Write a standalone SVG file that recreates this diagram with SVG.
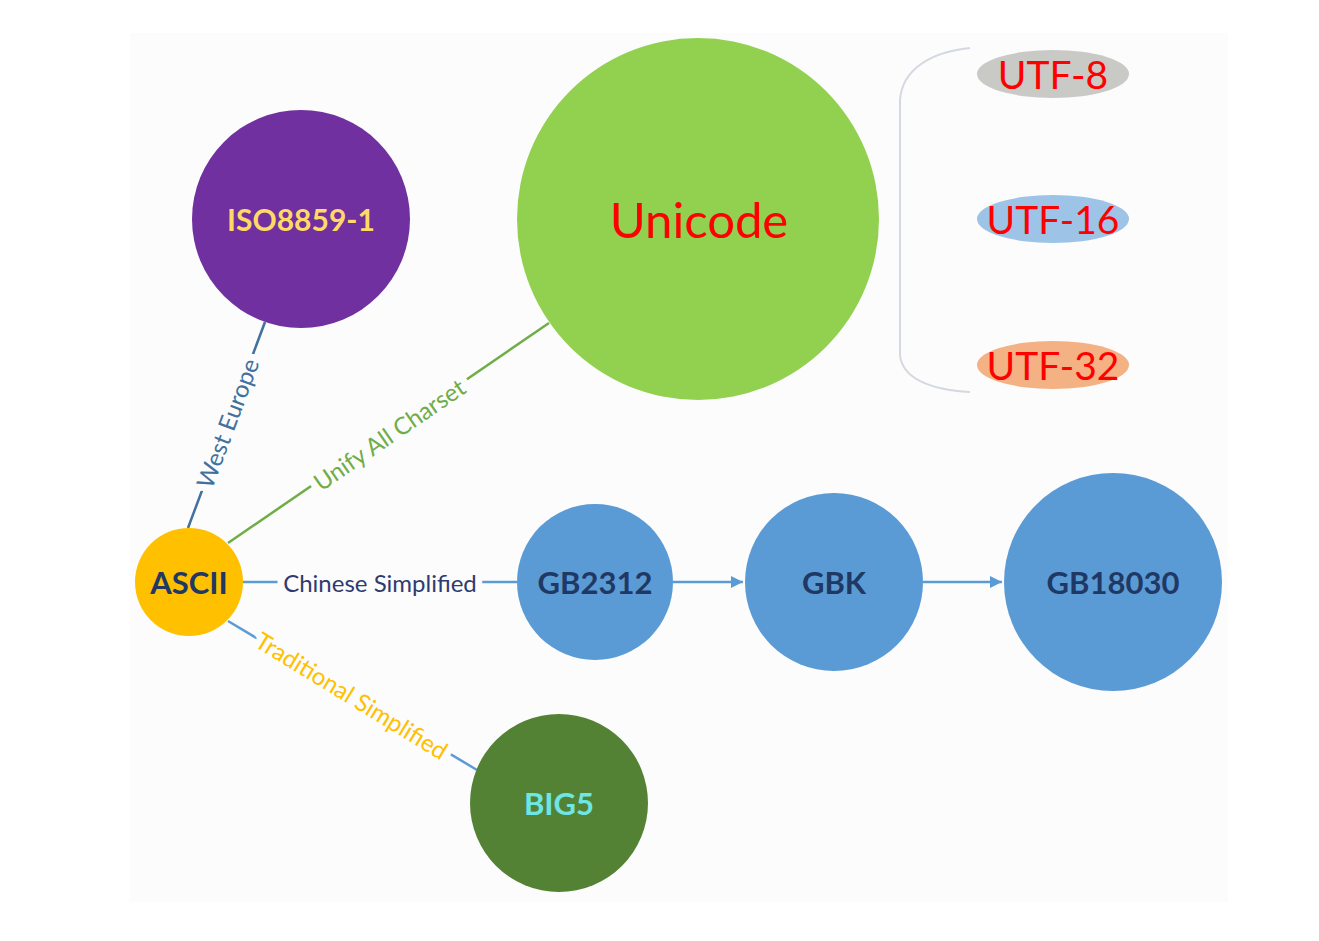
<svg xmlns="http://www.w3.org/2000/svg" width="1319" height="941" viewBox="0 0 1319 941">
<style>
.node text{font-family:Lato,"Open Sans","Liberation Sans",sans-serif;text-anchor:middle;dominant-baseline:central}
.lbl{font-family:Lato,"Open Sans","Liberation Sans",sans-serif;font-size:24px;text-anchor:middle;dominant-baseline:central;paint-order:stroke;stroke:#fcfcfc;stroke-width:14px;stroke-linejoin:round}
.utf{font-size:39px;fill:#ff0000}
.gb{fill:#5b9bd5}
.gbt{font-size:31px;fill:#1f3864;font-weight:bold}
</style>
<defs>
<marker id="arr" viewBox="0 0 10 10" refX="10" refY="5" markerWidth="5" markerHeight="5" orient="auto" markerUnits="strokeWidth">
<path d="M0,0 L10,5 L0,10 z" fill="#5b9bd5"/>
</marker>
</defs>
<rect x="0" y="0" width="1319" height="941" fill="#ffffff"/>
<rect x="130" y="33" width="1098" height="869" fill="#fcfcfc"/>
<g id="connectors" fill="none" stroke-width="2.5">
<line x1="265" y1="322" x2="188" y2="528" stroke="#41719c"/>
<line x1="228" y1="543" x2="549" y2="323" stroke="#70ad47"/>
<line x1="243" y1="582" x2="517" y2="582" stroke="#5b9bd5"/>
<line x1="228" y1="621" x2="477" y2="770" stroke="#5b9bd5"/>
<line x1="673" y1="582" x2="743" y2="582" stroke="#5b9bd5" marker-end="url(#arr)"/>
<line x1="923" y1="582" x2="1002" y2="582" stroke="#5b9bd5" marker-end="url(#arr)"/>
<path d="M970,48 C930,52 902,70 900,100 L900,355 C902,378 930,390 970,392" stroke="#d4d8e0" stroke-width="2"/>
<text class="lbl" transform="translate(227,423) rotate(-69.5)" fill="#41719c" font-size="25">West Europe</text>
<text class="lbl" transform="translate(389,434) rotate(-34.4)" fill="#70ad47">Unify All Charset</text>
<text class="lbl" x="380" y="582" fill="#2f3b6e">Chinese Simplified</text>
<text class="lbl" transform="translate(352,695) rotate(31.5)" fill="#ffc000" font-size="25">Traditional Simplified</text>
</g>
<g id="iso" class="node">
<circle cx="301" cy="219" r="109" fill="#7030a0"/>
<text x="301" y="219" font-size="30" font-weight="bold" fill="#ffd966">ISO8859-1</text>
</g>
<g id="unicode" class="node">
<circle cx="698" cy="219" r="181" fill="#92d050"/>
<text x="699" y="219" font-size="49" fill="#ff0000">Unicode</text>
</g>
<g id="utf8" class="node">
<ellipse cx="1053" cy="74" rx="76" ry="24" fill="#c9cac6"/>
<text class="utf" x="1053" y="74">UTF-8</text>
</g>
<g id="utf16" class="node">
<ellipse cx="1053" cy="219" rx="76" ry="24" fill="#9dc3e6"/>
<text class="utf" x="1053" y="219">UTF-16</text>
</g>
<g id="utf32" class="node">
<ellipse cx="1053" cy="365" rx="76" ry="24" fill="#f4b183"/>
<text class="utf" x="1053" y="365">UTF-32</text>
</g>
<g id="ascii" class="node">
<circle cx="189" cy="582" r="54" fill="#ffc000"/>
<text x="189" y="582" font-size="31" font-weight="bold" fill="#1f3864">ASCII</text>
</g>
<g id="gb2312" class="node">
<circle class="gb" cx="595" cy="582" r="78"/>
<text class="gbt" x="595" y="582">GB2312</text>
</g>
<g id="gbk" class="node">
<circle class="gb" cx="834" cy="582" r="89"/>
<text class="gbt" x="834" y="582">GBK</text>
</g>
<g id="gb18030" class="node">
<circle class="gb" cx="1113" cy="582" r="109"/>
<text class="gbt" x="1113" y="582">GB18030</text>
</g>
<g id="big5" class="node">
<circle cx="559" cy="803" r="89" fill="#548235"/>
<text x="559" y="803" font-size="31" font-weight="bold" fill="#6ee6e6">BIG5</text>
</g>
</svg>
